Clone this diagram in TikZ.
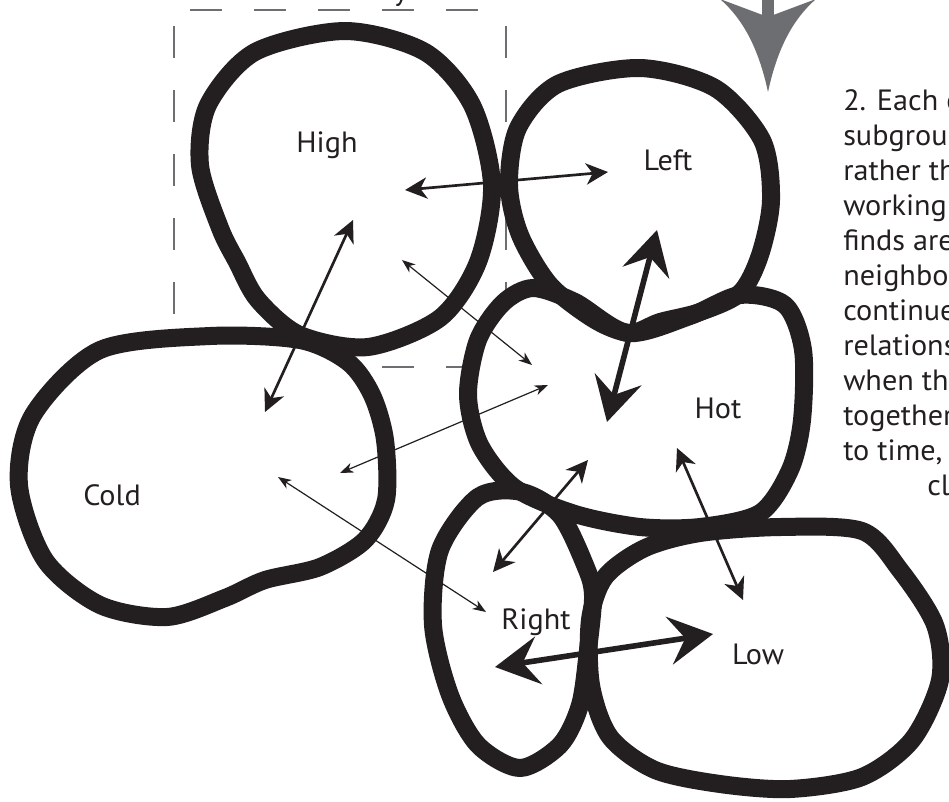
\documentclass[tikz,border=0pt]{standalone}
\usepackage{fontspec}
\setmainfont{PT Sans}[FakeStretch=1.03]
\usetikzlibrary{arrows.meta}
\definecolor{ink}{HTML}{231F20}
\definecolor{greyc}{HTML}{6D6E71}
\begin{document}
\begin{tikzpicture}[x=0.75pt,y=-0.75pt,
  blob/.style={draw=ink, line width=13.5pt, line join=round},
  thinarr/.style={draw=ink, line width=0.9pt, {Stealth[length=10pt,width=7.5pt,inset=3pt]}-{Stealth[length=10pt,width=7.5pt,inset=3pt]}},
  medarr/.style={draw=ink, line width=2pt, {Stealth[length=16.5pt,width=16pt,inset=5pt]}-{Stealth[length=16.5pt,width=16pt,inset=5pt]}},
  thickarr/.style={draw=ink, line width=4.2pt, {Stealth[length=33pt,width=36pt,inset=12pt]}-{Stealth[length=33pt,width=36pt,inset=12pt]}},
  lbl/.style={font=\fontsize{22pt}{26pt}\selectfont, text=ink, inner sep=0pt, anchor=base},
  txt/.style={font=\fontsize{22pt}{26pt}\selectfont, text=ink, inner sep=0pt, anchor=base west},
  dashside/.style={draw=greyc, line width=2pt, dash pattern=on 24pt off 24pt, dash phase=36pt}
]
\useasboundingbox (0,0) rectangle (949,801);
\clip (0,0) rectangle (949,801);

% dashed frame
\coordinate (f1) at (174,10);
\coordinate (f2) at (506,10);
\coordinate (f3) at (506,367);
\coordinate (f4) at (174,367);
\draw[dashside] (f1) -- (f2);
\draw[dashside] (f1) -- (f4);
\draw[dashside] (f2) -- (f3);
\draw[dashside] (f4) -- (f3);
\node[lbl] (yfrag) at (401,0) {y};

% blob fills
\fill[white] plot[smooth cycle] coordinates {(345,31) (425,52) (472,105) (492,185) (478,262) (440,318) (368,347) (300,335) (258,300) (237,262) (220,228) (200,165) (208,105) (255,52)};
\fill[white] plot[smooth cycle] coordinates {(100,350) (210,336) (300,340) (348,362) (372,395) (385,440) (386,500) (365,540) (320,567) (265,580) (225,598) (167,617) (100,605) (45,560) (19,485) (33,415)};
\fill[white] plot[smooth cycle] coordinates {(640,68) (715,88) (762,140) (771,200) (760,255) (740,293) (700,312) (660,322) (630,333) (595,320) (550,285) (520,235) (509,185) (518,128) (558,84)};
\fill[white] plot[smooth cycle] coordinates {(503,303) (533,288) (575,302) (628,333) (690,316) (740,295) (785,305) (803,350) (802,420) (790,470) (760,513) (700,527) (640,527) (575,514) (515,488) (480,445) (468,395) (478,340)};
\fill[white] plot[smooth cycle] coordinates {(478,497) (522,492) (560,515) (585,565) (593,595) (588,650) (580,705) (560,745) (520,768) (478,745) (450,695) (433,625) (440,550)};
\fill[white] plot[smooth cycle] coordinates {(645,548) (700,533) (780,527) (862,531) (900,570) (935,625) (940,680) (912,740) (862,777) (790,789) (720,784) (655,770) (610,737) (591,685) (590,620) (605,577)};

% blob outlines
\draw[blob] plot[smooth cycle] coordinates {(345,31) (425,52) (472,105) (492,185) (478,262) (440,318) (368,347) (300,335) (258,300) (237,262) (220,228) (200,165) (208,105) (255,52)};
\draw[blob] plot[smooth cycle] coordinates {(100,350) (210,336) (300,340) (348,362) (372,395) (385,440) (386,500) (365,540) (320,567) (265,580) (225,598) (167,617) (100,605) (45,560) (19,485) (33,415)};
\draw[blob] plot[smooth cycle] coordinates {(640,68) (715,88) (762,140) (771,200) (760,255) (740,293) (700,312) (660,322) (630,333) (595,320) (550,285) (520,235) (509,185) (518,128) (558,84)};
\draw[blob] plot[smooth cycle] coordinates {(503,303) (533,288) (575,302) (628,333) (690,316) (740,295) (785,305) (803,350) (802,420) (790,470) (760,513) (700,527) (640,527) (575,514) (515,488) (480,445) (468,395) (478,340)};
\draw[blob] plot[smooth cycle] coordinates {(478,497) (522,492) (560,515) (585,565) (593,595) (588,650) (580,705) (560,745) (520,768) (478,745) (450,695) (433,625) (440,550)};
\draw[blob] plot[smooth cycle] coordinates {(645,548) (700,533) (780,527) (862,531) (900,570) (935,625) (940,680) (912,740) (862,777) (790,789) (720,784) (655,770) (610,737) (591,685) (590,620) (605,577)};

% labels
\node[lbl] (high) at (327,152) {High};
\node[lbl] (left) at (668,170) {Left};
\node[lbl] (hot) at (718,418) {Hot};
\node[lbl] (cold) at (112,505) {Cold};
\node[lbl] (right) at (536,629) {Right};
\node[lbl] (low) at (758,664) {Low};

% arrow end points
\coordinate (hlA) at (405,190); \coordinate (hlB) at (608,172);
\coordinate (hcA) at (353,220); \coordinate (hcB) at (265,412);
\coordinate (hhA) at (402,260); \coordinate (hhB) at (532,365);
\coordinate (chA) at (340,473); \coordinate (chB) at (548,385);
\coordinate (crA) at (278,477); \coordinate (crB) at (486,612);
\coordinate (lhA) at (657,230); \coordinate (lhB) at (607,422);
\coordinate (hrA) at (588,460); \coordinate (hrB) at (493,572);
\coordinate (hwA) at (677,448); \coordinate (hwB) at (743,600);
\coordinate (rlA) at (495,667); \coordinate (rlB) at (713,634);

\draw[medarr] (hlA) -- (hlB);
\draw[medarr] (hcA) -- (hcB);
\draw[thinarr] (hhA) -- (hhB);
\draw[thinarr] (chA) -- (chB);
\draw[thinarr] (crA) -- (crB);
\draw[thickarr] (lhA) -- (lhB);
\draw[medarr] (hrA) -- (hrB);
\draw[medarr] (hwA) -- (hwB);
\draw[thickarr] (rlA) -- (rlB);

% grey arrow
\fill[greyc] (762,-2) rectangle (774,22);
\fill[greyc] (720,-1) .. controls (744,20) and (759,50) .. (768,92) .. controls (777,50) and (792,20) .. (816,-1) -- (768,17) -- cycle;

% right text
\node[txt] (t0) at (843,110) {2. Each of};
\node[txt] (t1) at (843,145) {subgroups};
\node[txt] (t2) at (843,180) {rather than};
\node[txt] (t3) at (843,215) {working};
\node[txt] (t4) at (843,250) {finds are};
\node[txt] (t5) at (843,285) {neighbors};
\node[txt] (t6) at (843,320) {continue};
\node[txt] (t7) at (843,355) {relationships};
\node[txt] (t8) at (843,390) {when they};
\node[txt] (t9) at (843,425) {together};
\node[txt] (t10) at (843,460) {to time,};
\node[txt] (t11) at (927,495) {closer};
\end{tikzpicture}
\end{document}
